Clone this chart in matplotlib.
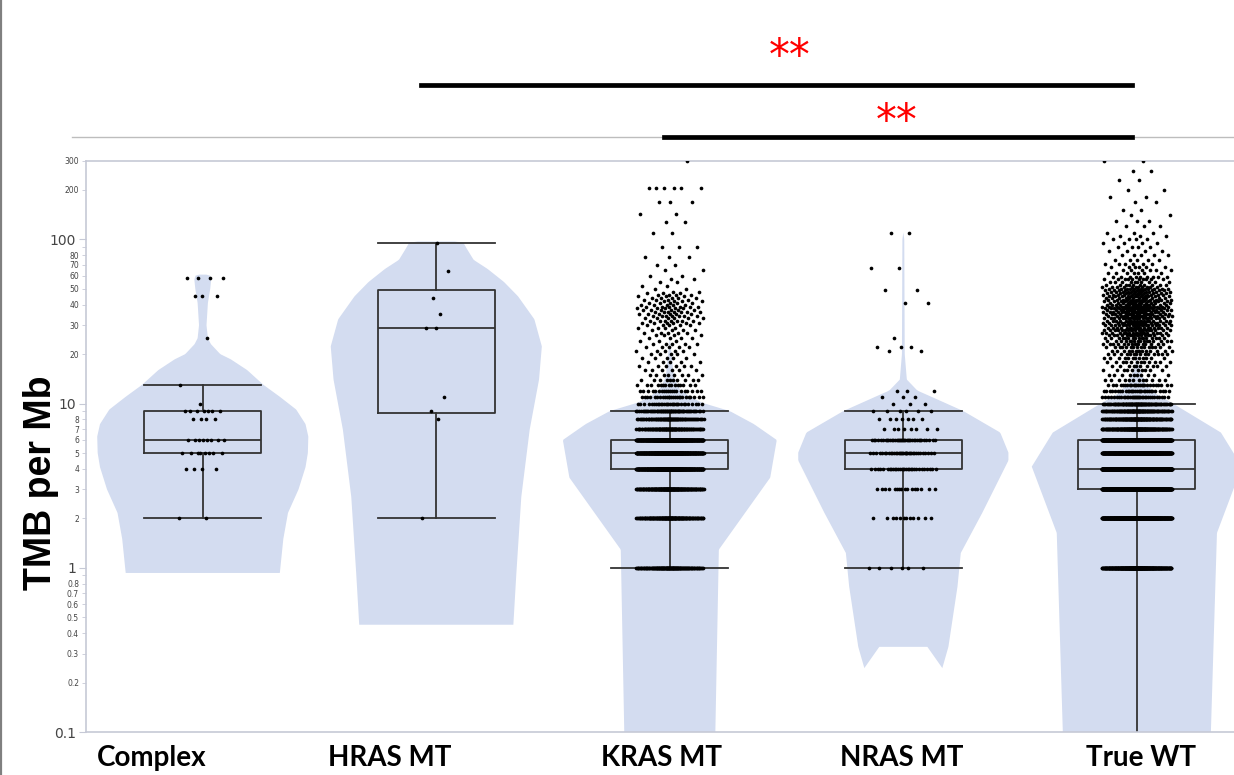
import numpy as np
import matplotlib
matplotlib.use('Agg')
import matplotlib.pyplot as plt
import matplotlib.transforms as mtransforms
from matplotlib.lines import Line2D
from matplotlib.ticker import FixedLocator, FixedFormatter

# ── Data ──────────────────────────────────────────────────────────────────────
groups = ['Complex', 'HRAS MT', 'KRAS MT', 'NRAS MT', 'True WT']

# TMB values (per Mb) and number of patients at each value
complex_tmb = [2, 4, 5, 6, 8, 9, 10, 13, 25, 45, 58]
complex_n = [2, 4, 8, 8, 4, 7, 1, 1, 1, 3, 4]

hras_tmb = [2, 8, 9, 11, 29, 35, 44, 64, 95]
hras_n = [1, 1, 1, 1, 2, 1, 1, 1, 1]

kras_tmb = [1, 2, 3, 4, 5, 6, 7, 8, 9,
            10, 11, 12, 13, 14, 15, 16, 17, 18, 19, 20, 21, 22, 23,
            24, 25, 26, 27, 28, 29,
            30, 31, 32, 33, 34, 35, 36, 37, 38, 39, 40,
            41, 42, 43, 44, 45, 46, 47, 48, 50, 52, 55,
            57, 60, 65, 70, 78, 90, 110, 128, 142, 170, 205, 300]
kras_n = [140, 160, 200, 420, 420, 450, 120, 90, 70,
          30, 25, 20, 15, 10, 8, 6, 6, 5, 5, 5, 5, 5, 5,
          3, 4, 4, 5, 4, 4,
          5, 6, 7, 6, 7, 6, 7, 6, 5, 6, 5,
          5, 4, 4, 5, 3, 4, 3, 2, 2, 2, 2,
          2, 2, 2, 2, 3, 3, 2, 2, 2, 3, 6, 1]

nras_tmb = [1, 2, 3, 4, 5, 6, 7, 8, 9, 10, 11, 12, 21, 22, 25, 41, 49, 67, 110]
nras_n = [6, 12, 16, 30, 35, 38, 8, 7, 6, 3, 3, 3, 2, 3, 1, 2, 2, 2, 2]

wt_tmb = [0.05, 1, 2, 3, 4, 5, 6, 7, 8, 9, 10,
          11, 12, 13, 14, 15, 16, 17, 18, 19, 20, 21, 22, 23, 24, 25,
          26, 27, 28, 29, 30, 31, 32, 33, 34, 35, 36, 37, 38, 39, 40,
          41, 42, 43, 44, 45, 46, 47, 48, 49, 50,
          51, 53, 55, 57, 59, 62, 65, 68, 71, 75,
          80, 85, 90, 95, 100, 105, 110, 120, 130,
          140, 150, 170, 180, 200, 230, 260, 300]
wt_n = [1, 320, 600, 750, 1150, 600, 750, 200, 160, 130, 100,
        35, 30, 25, 12, 10, 10, 10, 12, 12, 14, 14, 15, 15, 16, 16,
        17, 18, 19, 18, 20, 19, 18, 19, 18, 17, 18, 19, 17, 17, 16,
        14, 13, 13, 12, 12, 12, 11, 11, 11, 11,
        11, 10, 10, 10, 9, 7, 6, 6, 6, 5,
        5, 4, 4, 4, 4, 3, 3, 3, 3,
        2, 2, 2, 2, 2, 2, 2, 2]

# violin density outline (TMB level, half width), top to bottom
complex_vio_tmb = [61, 60.5, 57, 50, 41, 30, 25, 23, 20, 18.6, 16, 13, 11, 9.2,
                   7.5, 6.3, 5, 4.1, 3, 2.16, 1.5, 0.93]
complex_vio_w = [0.015, 0.03, 0.036, 0.032, 0.022, 0.016, 0.022, 0.035, 0.075, 0.12,
                 0.19, 0.26, 0.33, 0.40, 0.44, 0.452, 0.45, 0.44, 0.41, 0.365, 0.345, 0.33]

hras_vio_tmb = [97, 96, 88, 75, 66, 55, 45, 32.6, 22.3, 14, 6.94, 2.7, 0.93, 0.45]
hras_vio_w = [0.08, 0.115, 0.13, 0.16, 0.22, 0.29, 0.35, 0.42, 0.452, 0.44, 0.40,
              0.364, 0.343, 0.33]

kras_vio_tmb = [25, 14.6, 12.2, 11, 10.1, 9, 7.5, 6, 3.54, 1.29, 0.1]
kras_vio_w = [0.0, 0.017, 0.043, 0.086, 0.14, 0.257, 0.36, 0.458, 0.43, 0.21, 0.195]

nras_vio_tmb = [110, 100, 20, 14, 12, 11, 9, 6.66, 5.03, 4.5, 2.16, 1.23, 0.77, 0.33, 0.245]
nras_vio_w = [0.0, 0.004, 0.006, 0.015, 0.06, 0.12, 0.257, 0.415, 0.45, 0.45,
              0.338, 0.246, 0.232, 0.193, 0.167]
nras_notch_tmb = [0.33, 0.245]
nras_notch_w = [0.103, 0.167]

wt_vio_tmb = [20, 17, 13.4, 11.5, 10.1, 6.66, 4.13, 1.63, 0.1]
wt_vio_w = [0.0, 0.008, 0.035, 0.08, 0.15, 0.36, 0.45, 0.343, 0.317]

# significance brackets (group index pairs)
sig_pairs = [(1, 4), (2, 4)]
sig_labels = ['**', '**']

# ── Style ─────────────────────────────────────────────────────────────────────
VIOLIN = '#d3dcf0'
AXIS = '#c6c9d6'
BOXC = '#333333'
jitter_w = [0.10, 0.06, 0.145, 0.145, 0.15]
label_shift = [-0.218, -0.20, -0.034, -0.008, 0.017]


def draw_violin(ax, c, vt, vw, nt=None, nw=None):
    lv = np.log10(vt)
    grid = np.linspace(lv[0], lv[-1], 300)
    w = np.interp(grid, lv[::-1], np.array(vw)[::-1])
    ys = 10 ** grid
    px = list(c + w)
    py = list(ys)
    if nt:
        ln = np.log10(nt)
        g2 = np.linspace(ln[-1], ln[0], 30)
        wn = np.interp(g2, ln[::-1], np.array(nw)[::-1])
        px += list(c + wn) + list(c - wn[::-1])
        py += list(10 ** g2) + list(10 ** g2[::-1])
    px += list(c - w[::-1])
    py += list(ys[::-1])
    ax.fill(px, py, color=VIOLIN, lw=0, zorder=1)


def jitter(vals, counts, hw):
    ys = np.repeat(np.array(vals, float), counts)
    k = np.arange(len(ys))
    u = 2 * ((k * 0.6180339887) % 1.0) - 1
    xs = hw * (0.6 * u + 0.4 * u ** 3)   # a bit denser near the centre
    return xs, ys


def box_stats(vals, counts):
    d = np.repeat(np.array(vals, float), counts)
    q1, med, q3 = np.percentile(d, [25, 50, 75], method='weibull')
    iqr = q3 - q1
    return dict(med=med, q1=q1, q3=q3,
                whislo=d[d >= q1 - 1.5 * iqr].min(),
                whishi=d[d <= q3 + 1.5 * iqr].max(), fliers=[])


fig = plt.figure(figsize=(12.34, 7.75), dpi=100)
fig.patch.set_facecolor('white')
ax = fig.add_axes([86 / 1234, 1 - 732 / 775, 1 - 86 / 1234, (732 - 161) / 775])
ax.set_yscale('log')
ax.set_ylim(0.1, 300)
ax.set_xlim(-0.5, 4.416)

data = [(complex_tmb, complex_n), (hras_tmb, hras_n), (kras_tmb, kras_n),
        (nras_tmb, nras_n), (wt_tmb, wt_n)]
violins = [(complex_vio_tmb, complex_vio_w, None, None),
           (hras_vio_tmb, hras_vio_w, None, None),
           (kras_vio_tmb, kras_vio_w, None, None),
           (nras_vio_tmb, nras_vio_w, nras_notch_tmb, nras_notch_w),
           (wt_vio_tmb, wt_vio_w, None, None)]

for i, (vt, vw, nt, nw) in enumerate(violins):
    draw_violin(ax, i, vt, vw, nt, nw)

stats = [box_stats(v, n) for v, n in data]
lp = dict(color=BOXC, lw=1.3)
ax.bxp(stats, positions=range(len(groups)), widths=0.5, capwidths=0.5,
       showfliers=False, manage_ticks=False,
       boxprops=lp, whiskerprops=lp, capprops=lp, medianprops=lp, zorder=2)

for i, (v, n) in enumerate(data):
    xs, ys = jitter(v, n, jitter_w[i])
    ax.scatter(i + xs, ys, s=7, color='black', lw=0, zorder=3)

# axes styling
for side in ['left', 'top', 'bottom']:
    ax.spines[side].set_color(AXIS)
    ax.spines[side].set_linewidth(1.2)
ax.spines['right'].set_visible(False)

ax.yaxis.set_major_locator(FixedLocator([0.1, 1, 10, 100]))
ax.yaxis.set_major_formatter(FixedFormatter(['0.1', '1', '10', '100']))
minor = [0.2, 0.3, 0.4, 0.5, 0.6, 0.7, 0.8, 0.9,
         2, 3, 4, 5, 6, 7, 8, 9, 20, 30, 40, 50, 60, 70, 80, 90, 200, 300]
minor_lbl = ['0.2', '0.3', '0.4', '0.5', '0.6', '0.7', '0.8', '',
             '2', '3', '4', '5', '6', '7', '8', '',
             '20', '30', '40', '50', '60', '70', '80', '', '200', '300']
ax.yaxis.set_minor_locator(FixedLocator(minor))
ax.yaxis.set_minor_formatter(FixedFormatter(minor_lbl))
ax.tick_params(axis='y', which='major', length=5, color=AXIS, labelsize=10,
               labelcolor='#444444', pad=2)
ax.tick_params(axis='y', which='minor', length=3, color=AXIS, labelsize=5.5,
               labelcolor='#444444', pad=2)

# category labels (the original places the first two a little left of centre)
ax.set_xticks(range(len(groups)))
ax.set_xticklabels([''] * len(groups))
ax.tick_params(axis='x', length=0)
lab_trans = mtransforms.blended_transform_factory(ax.transData, fig.transFigure)
for i, g in enumerate(groups):
    ax.text(i + label_shift[i], 1 - 758 / 775, g, transform=lab_trans,
            ha='center', va='center', fontfamily='Lato', fontweight='bold',
            fontsize=20, clip_on=False)

fig.text(41 / 1234, 1 - 483 / 775, 'TMB per Mb', rotation=90, ha='center',
         va='center', fontsize=27, fontweight='bold', family='Liberation Sans')

# frame lines around the panel
fig.add_artist(Line2D([72 / 1234, 1], [1 - 137 / 775] * 2, color='#bdbdbd', lw=1,
                      zorder=-1))
fig.add_artist(Line2D([0.0012, 0.0012], [0, 1], color='#808080', lw=1.6))

# significance brackets
trans = mtransforms.blended_transform_factory(ax.transData, fig.transFigure)
bar_start = [-0.065, -0.027]
bar_y = [1 - 85 / 775, 1 - 137 / 775]
star_y = [1 - 57 / 775, 1 - 122 / 775]
star_x = [2.514, 2.972]
for (a, b), lbl, s0, by, sy, sx in zip(sig_pairs, sig_labels, bar_start,
                                        bar_y, star_y, star_x):
    ax.add_line(Line2D([a + s0, b - 0.02], [by, by], color='black', lw=3.4,
                       transform=trans, clip_on=False, zorder=5))
    ax.text(sx, sy, lbl, color='red', fontsize=30, ha='center', va='center',
            transform=trans, clip_on=False)

fig.savefig('out.png', dpi=100, facecolor='white')
